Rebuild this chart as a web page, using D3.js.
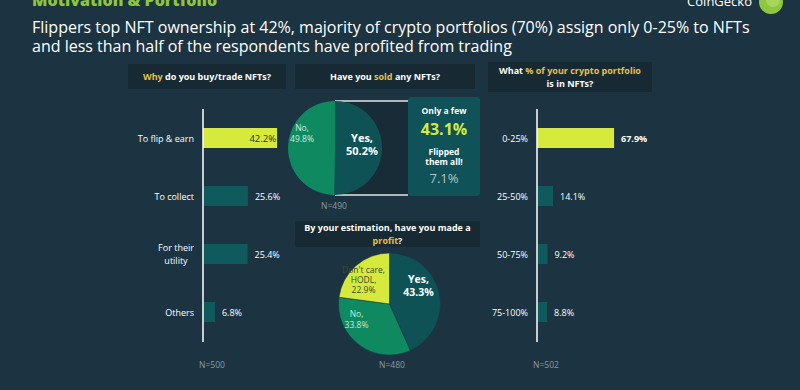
<!DOCTYPE html>
<html><head><meta charset="utf-8">
<script src="https://cdn.jsdelivr.net/npm/d3@7"></script>
<style>
html,body{margin:0;padding:0;background:#1c3441;}
svg{display:block;font-family:"Open Sans",sans-serif;}
</style></head>
<body><svg id="c" width="800" height="390"></svg>
<script>
// ---- data ----
const motiveCats = ["To flip & earn","To collect","For their utility","Others"];
const motiveVals = [42.2,25.6,25.4,6.8];
const portCats = ["0-25%","25-50%","50-75%","75-100%"];
const portVals = [67.9,14.1,9.2,8.8];
const soldCats = ["Yes","No"];
const soldVals = [50.2,49.8];
const soldBreakCats = ["Only a few","Flipped them all!"];
const soldBreakVals = [43.1,7.1];
const profitCats = ["Yes","No","Don't care, HODL"];
const profitVals = [43.3,33.8,22.9];
const sampleN = {motive:500, sold:490, profit:480, port:502};

const C = {bg:"#1c3441", hdr:"#172a33", lime:"#d5ea3c", teal:"#0f5a5c", green:"#0f8a60", dteal:"#0e5256", gold:"#e6c04a", grey:"#8a9aa2"};
const svg = d3.select("#c");
svg.append("rect").attr("width",800).attr("height",390).attr("fill",C.bg);

// title
svg.append("text").attr("x",32).attr("y",6).attr("font-size",16).attr("font-weight",800)
  .attr("fill","#8dc63f").text("Motivation & Portfolio");
const sub = svg.append("text").attr("font-size",16).attr("fill","#ffffff");
sub.append("tspan").attr("x",32).attr("y",33).text("Flippers top NFT ownership at 42%, majority of crypto portfolios (70%) assign only 0-25% to NFTs");
sub.append("tspan").attr("x",32).attr("y",52).text("and less than half of the respondents have profited from trading");
// logo
svg.append("text").attr("x",752).attr("y",6).attr("text-anchor","end").attr("font-size",13).attr("fill","#fff").text("CoinGecko");
svg.append("circle").attr("cx",771).attr("cy",2).attr("r",12).attr("fill","#8dc63f");
svg.append("circle").attr("cx",773).attr("cy",0).attr("r",7).attr("fill","#a8d65a");

// header boxes
function header(x,w,y,h,lines){
  svg.append("rect").attr("x",x).attr("y",y).attr("width",w).attr("height",h).attr("fill",C.hdr);
  const n=lines.length;
  lines.forEach((parts,i)=>{
    const t=svg.append("text").attr("x",x+w/2).attr("y",y+h/2+3.5+(i-(n-1)/2)*12.5)
      .attr("text-anchor","middle").attr("font-size",9).attr("font-weight",700).attr("fill","#fff");
    parts.forEach(p=>t.append("tspan").attr("fill",p[1]?C.gold:"#fff").text(p[0]));
  });
}
header(128,158,64,25,[[["Why",1],[" do you buy/trade NFTs?",0]]]);
header(295,180,64,25,[[["Have you ",0],["sold",1],[" any NFTs?",0]]]);
header(488,164,62,30,[[["What ",0],["% of your crypto portfolio",1]],[["is in NFTs?",0]]]);
header(295,185,221,26,[[["By your estimation, have you made a",0]],[["profit",1],["?",0]]]);

// bar charts
function barChart(cats,vals,axisX,pxPerPct,labelX,nX,N,firstInside){
  const y=d3.scalePoint().domain(cats).range([109,341]).padding(0.5);
  const x=d3.scaleLinear().domain([0,100]).range([axisX,axisX+pxPerPct*100]);
  const g=svg.append("g");
  cats.forEach((c,i)=>{
    const cy=y(c);
    g.append("rect").attr("x",x(0)).attr("y",cy-10).attr("width",x(vals[i])-x(0)).attr("height",20)
      .attr("fill",i===0?C.lime:C.teal);
    const lbl=d3.format(".1f")(vals[i])+"%";
    if(i===0&&firstInside){
      g.append("text").attr("x",x(vals[i])-1).attr("y",cy+4).attr("text-anchor","end")
        .attr("font-size",9.5).attr("fill","#1c3441").text(lbl);
    } else {
      g.append("text").attr("x",x(vals[i])+7).attr("y",cy+4).attr("font-size",9)
        .attr("font-weight",i===0?700:400).attr("fill","#fff").text(lbl);
    }
    const words = c==="For their utility"?["For their","utility"]:[c];
    words.forEach((w,j)=>{
      const multi=words.length>1;
      g.append("text").attr("x",multi?labelX-18:labelX).attr("y",cy+3.5+(j-(words.length-1)/2)*12.5)
        .attr("text-anchor",multi?"middle":"end").attr("font-size",9).attr("fill","#fff").text(w);
    });
  });
  g.append("line").attr("x1",axisX).attr("x2",axisX).attr("y1",109).attr("y2",342)
    .attr("stroke","#fff").attr("stroke-width",1.5);
  svg.append("text").attr("x",nX).attr("y",368).attr("text-anchor","middle").attr("font-size",8.5)
    .attr("fill",C.grey).text("N="+N);
}
barChart(motiveCats,motiveVals,203,1.755,194,212,sampleN.motive,true);
barChart(portCats,portVals,537,1.135,528,546,sampleN.port,false);

// sold pie
const soldCx=335, soldCy=148, soldR=47;
svg.append("rect").attr("x",soldCx).attr("y",soldCy-soldR).attr("width",73).attr("height",soldR*2).attr("fill","#172c36");
svg.append("line").attr("x1",soldCx).attr("x2",408).attr("y1",soldCy-soldR).attr("y2",soldCy-soldR).attr("stroke","#dfe6e8").attr("stroke-width",1.5);
svg.append("line").attr("x1",soldCx).attr("x2",408).attr("y1",soldCy+soldR).attr("y2",soldCy+soldR).attr("stroke","#dfe6e8").attr("stroke-width",1.5);
const pie=d3.pie().sort(null).value(d=>d);
const soldArc=d3.arc().innerRadius(0).outerRadius(soldR);
const sg=svg.append("g").attr("transform",`translate(${soldCx},${soldCy})`);
sg.selectAll("path").data(pie(soldVals)).join("path").attr("d",soldArc)
  .attr("fill",(d,i)=>i===0?C.dteal:C.green);
const soldLbl=[[27,-6,"#fff",700,11],[-33,-17,"#cfeee0",400,8.5]];
soldVals.forEach((v,i)=>{
  const [dx,dy,col,fw,fs]=soldLbl[i];
  const t=sg.append("text").attr("text-anchor","middle").attr("fill",col).attr("font-weight",fw).attr("font-size",fs);
  t.append("tspan").attr("x",dx).attr("y",dy).text(soldCats[i]+",");
  t.append("tspan").attr("x",dx).attr("y",dy+(i===0?13:11)).text(d3.format(".1f")(v)+"%");
});
svg.append("text").attr("x",334).attr("y",209).attr("text-anchor","middle").attr("font-size",8.5).attr("fill",C.grey).text("N="+sampleN.sold);

// sold breakdown box
svg.append("rect").attr("x",408).attr("y",97).attr("width",72).attr("height",99).attr("rx",3).attr("fill","#0f5257");
svg.append("text").attr("x",444).attr("y",114).attr("text-anchor","middle").attr("font-size",8.5).attr("font-weight",700).attr("fill","#fff").text(soldBreakCats[0]);
svg.append("text").attr("x",444).attr("y",135).attr("text-anchor","middle").attr("font-size",16).attr("font-weight",700).attr("fill",C.lime).text(d3.format(".1f")(soldBreakVals[0])+"%");
const fl=svg.append("text").attr("text-anchor","middle").attr("font-size",8.5).attr("font-weight",700).attr("fill","#fff");
fl.append("tspan").attr("x",444).attr("y",155).text("Flipped");
fl.append("tspan").attr("x",444).attr("y",165).text("them all!");
svg.append("text").attr("x",444).attr("y",183).attr("text-anchor","middle").attr("font-size",13).attr("fill","#b5c2c6").text(d3.format(".1f")(soldBreakVals[1])+"%");

// profit pie
const pCx=389.5, pCy=304, pR=51;
const pArc=d3.arc().innerRadius(0).outerRadius(pR);
const pg=svg.append("g").attr("transform",`translate(${pCx},${pCy})`);
pg.selectAll("path").data(pie(profitVals)).join("path").attr("d",pArc)
  .attr("fill",(d,i)=>[C.dteal,C.green,C.lime][i]).attr("stroke","#1c3441").attr("stroke-width",0.6);
const pLbl=[
  {x:29,y:-21,lines:["Yes,",d3.format(".1f")(profitVals[0])+"%"],col:"#fff",fw:700,fs:10.5,lh:12.5},
  {x:-33,y:13,lines:["No,",d3.format(".1f")(profitVals[1])+"%"],col:"#bfeedd",fw:400,fs:8.5,lh:11},
  {x:-26,y:-31,lines:["Don't care,","HODL,",d3.format(".1f")(profitVals[2])+"%"],col:"#3a4a2a",fw:400,fs:8.5,lh:10}
];
pLbl.forEach(l=>{
  const t=pg.append("text").attr("text-anchor","middle").attr("fill",l.col).attr("font-weight",l.fw).attr("font-size",l.fs);
  l.lines.forEach((s,j)=>t.append("tspan").attr("x",l.x).attr("y",l.y+j*l.lh).text(s));
});
svg.append("text").attr("x",392).attr("y",368).attr("text-anchor","middle").attr("font-size",8.5).attr("fill",C.grey).text("N="+sampleN.profit);
</script></body></html>
